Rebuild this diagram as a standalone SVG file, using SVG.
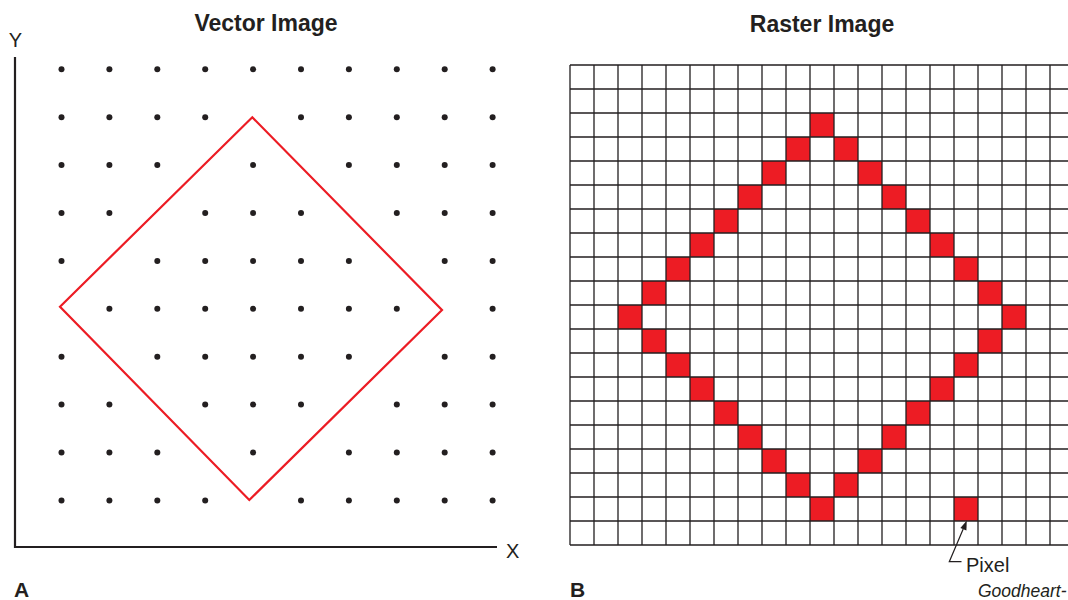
<svg xmlns="http://www.w3.org/2000/svg" width="1068" height="600" viewBox="0 0 1068 600">
<style>
.t{font-family:"Liberation Sans",Arial,sans-serif;fill:#231f20}
.title{font-size:23px;font-weight:bold;text-anchor:middle}
.lbl{font-size:20px}
.pl{font-size:21px;font-weight:bold}
.dot{fill:#231f20}
.px{fill:#ed1c24}
.grid{fill:none;stroke:#231f20;stroke-width:1.3}
.axis{fill:none;stroke:#231f20;stroke-width:2.2}
</style>
<defs><circle id="d" r="3" class="dot"/></defs>
<rect width="1068" height="600" fill="#fff"/>
<g id="panelA">
<text class="t title" x="266" y="31">Vector Image</text>
<g id="axes">
<path class="axis" d="M15,57 V547 H497"/>
<text class="t lbl" x="15.5" y="47" text-anchor="middle">Y</text>
<text class="t lbl" x="506" y="558">X</text>
</g>
<g id="dots">
<use href="#d" x="61.5" y="69.3"/><use href="#d" x="109.4" y="69.3"/><use href="#d" x="157.3" y="69.3"/><use href="#d" x="205.2" y="69.3"/><use href="#d" x="253.1" y="69.3"/><use href="#d" x="301" y="69.3"/><use href="#d" x="348.9" y="69.3"/><use href="#d" x="396.8" y="69.3"/><use href="#d" x="444.7" y="69.3"/><use href="#d" x="492.6" y="69.3"/>
<use href="#d" x="61.5" y="117.2"/><use href="#d" x="109.4" y="117.2"/><use href="#d" x="157.3" y="117.2"/><use href="#d" x="205.2" y="117.2"/><use href="#d" x="301" y="117.2"/><use href="#d" x="348.9" y="117.2"/><use href="#d" x="396.8" y="117.2"/><use href="#d" x="444.7" y="117.2"/><use href="#d" x="492.6" y="117.2"/>
<use href="#d" x="61.5" y="165.1"/><use href="#d" x="109.4" y="165.1"/><use href="#d" x="157.3" y="165.1"/><use href="#d" x="253.1" y="165.1"/><use href="#d" x="348.9" y="165.1"/><use href="#d" x="396.8" y="165.1"/><use href="#d" x="444.7" y="165.1"/><use href="#d" x="492.6" y="165.1"/>
<use href="#d" x="61.5" y="213"/><use href="#d" x="109.4" y="213"/><use href="#d" x="205.2" y="213"/><use href="#d" x="253.1" y="213"/><use href="#d" x="301" y="213"/><use href="#d" x="396.8" y="213"/><use href="#d" x="444.7" y="213"/><use href="#d" x="492.6" y="213"/>
<use href="#d" x="61.5" y="260.9"/><use href="#d" x="157.3" y="260.9"/><use href="#d" x="205.2" y="260.9"/><use href="#d" x="253.1" y="260.9"/><use href="#d" x="301" y="260.9"/><use href="#d" x="348.9" y="260.9"/><use href="#d" x="444.7" y="260.9"/><use href="#d" x="492.6" y="260.9"/>
<use href="#d" x="109.4" y="308.8"/><use href="#d" x="157.3" y="308.8"/><use href="#d" x="205.2" y="308.8"/><use href="#d" x="253.1" y="308.8"/><use href="#d" x="301" y="308.8"/><use href="#d" x="348.9" y="308.8"/><use href="#d" x="396.8" y="308.8"/><use href="#d" x="492.6" y="308.8"/>
<use href="#d" x="61.5" y="356.7"/><use href="#d" x="157.3" y="356.7"/><use href="#d" x="205.2" y="356.7"/><use href="#d" x="253.1" y="356.7"/><use href="#d" x="301" y="356.7"/><use href="#d" x="348.9" y="356.7"/><use href="#d" x="444.7" y="356.7"/><use href="#d" x="492.6" y="356.7"/>
<use href="#d" x="61.5" y="404.6"/><use href="#d" x="109.4" y="404.6"/><use href="#d" x="205.2" y="404.6"/><use href="#d" x="253.1" y="404.6"/><use href="#d" x="301" y="404.6"/><use href="#d" x="396.8" y="404.6"/><use href="#d" x="444.7" y="404.6"/><use href="#d" x="492.6" y="404.6"/>
<use href="#d" x="61.5" y="452.5"/><use href="#d" x="109.4" y="452.5"/><use href="#d" x="157.3" y="452.5"/><use href="#d" x="253.1" y="452.5"/><use href="#d" x="348.9" y="452.5"/><use href="#d" x="396.8" y="452.5"/><use href="#d" x="444.7" y="452.5"/><use href="#d" x="492.6" y="452.5"/>
<use href="#d" x="61.5" y="500.4"/><use href="#d" x="109.4" y="500.4"/><use href="#d" x="157.3" y="500.4"/><use href="#d" x="205.2" y="500.4"/><use href="#d" x="301" y="500.4"/><use href="#d" x="348.9" y="500.4"/><use href="#d" x="396.8" y="500.4"/><use href="#d" x="444.7" y="500.4"/><use href="#d" x="492.6" y="500.4"/>
</g>
<polygon id="vectorSquare" points="60,306.7 252.3,117.3 442,310 249.3,500" fill="none" stroke="#ec1c24" stroke-width="2.2" stroke-linejoin="miter"/>
<text class="t pl" x="14" y="597">A</text>
</g>
<g id="panelB">
<text class="t title" x="822" y="32">Raster Image</text>
<g id="pixels">
<rect class="px" x="810" y="113" width="24" height="24"/>
<rect class="px" x="786" y="137" width="24" height="24"/><rect class="px" x="834" y="137" width="24" height="24"/>
<rect class="px" x="762" y="161" width="24" height="24"/><rect class="px" x="858" y="161" width="24" height="24"/>
<rect class="px" x="738" y="185" width="24" height="24"/><rect class="px" x="882" y="185" width="24" height="24"/>
<rect class="px" x="714" y="209" width="24" height="24"/><rect class="px" x="906" y="209" width="24" height="24"/>
<rect class="px" x="690" y="233" width="24" height="24"/><rect class="px" x="930" y="233" width="24" height="24"/>
<rect class="px" x="666" y="257" width="24" height="24"/><rect class="px" x="954" y="257" width="24" height="24"/>
<rect class="px" x="642" y="281" width="24" height="24"/><rect class="px" x="978" y="281" width="24" height="24"/>
<rect class="px" x="618" y="305" width="24" height="24"/><rect class="px" x="1002" y="305" width="24" height="24"/>
<rect class="px" x="642" y="329" width="24" height="24"/><rect class="px" x="978" y="329" width="24" height="24"/>
<rect class="px" x="666" y="353" width="24" height="24"/><rect class="px" x="954" y="353" width="24" height="24"/>
<rect class="px" x="690" y="377" width="24" height="24"/><rect class="px" x="930" y="377" width="24" height="24"/>
<rect class="px" x="714" y="401" width="24" height="24"/><rect class="px" x="906" y="401" width="24" height="24"/>
<rect class="px" x="738" y="425" width="24" height="24"/><rect class="px" x="882" y="425" width="24" height="24"/>
<rect class="px" x="762" y="449" width="24" height="24"/><rect class="px" x="858" y="449" width="24" height="24"/>
<rect class="px" x="786" y="473" width="24" height="24"/><rect class="px" x="834" y="473" width="24" height="24"/>
<rect class="px" x="810" y="497" width="24" height="24"/><rect class="px" x="954" y="497" width="24" height="24"/>
</g>
<path class="grid" d="M570,65V545M594,65V545M618,65V545M642,65V545M666,65V545M690,65V545M714,65V545M738,65V545M762,65V545M786,65V545M810,65V545M834,65V545M858,65V545M882,65V545M906,65V545M930,65V545M954,65V545M978,65V545M1002,65V545M1026,65V545M1050,65V545M1074,65V545
M570,65H1074M570,89H1074M570,113H1074M570,137H1074M570,161H1074M570,185H1074M570,209H1074M570,233H1074M570,257H1074M570,281H1074M570,305H1074M570,329H1074M570,353H1074M570,377H1074M570,401H1074M570,425H1074M570,449H1074M570,473H1074M570,497H1074M570,521H1074M570,545H1074"/>
<text class="t pl" x="570" y="597">B</text>
</g>
<g id="connectors">
<polyline points="961.5,561.7 949.3,561.7 963.2,529" fill="none" stroke="#231f20" stroke-width="1.2"/>
<polygon points="966.8,520.5 966.4,530.6 960.4,528" fill="#231f20"/>
</g>
<g id="pixelLabel">
<text class="t lbl" x="966" y="572">Pixel</text>
</g>
<text class="t" x="978" y="597" font-size="17.5" font-style="italic">Goodheart-</text>
</svg>
